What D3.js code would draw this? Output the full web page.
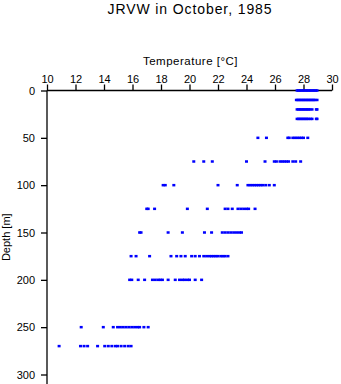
<!DOCTYPE html>
<html>
<head>
<meta charset="utf-8">
<script src="https://cdn.jsdelivr.net/npm/d3@7/dist/d3.min.js"></script>
<style>
  html, body { margin: 0; padding: 0; background: #fff; }
  svg { display: block; }
  text { font-family: "Liberation Sans", Arial, Helvetica, sans-serif; fill: #000; }
</style>
</head>
<body>
<svg id="chart" width="341" height="384"></svg>
<script>
// Temperature profile readings, JRVW, October 1985
const depthLevels = [0, 10, 20, 30, 50, 75, 100, 125, 150, 175, 200, 250, 270];

const temps0   = [27.55, 27.65, 27.75, 27.85, 27.95, 28.05, 28.15, 28.25, 28.35, 28.45, 28.55, 28.65, 28.75, 28.85, 28.95];
const temps10  = [27.5, 27.6, 27.7, 27.8, 27.9, 28.0, 28.1, 28.2, 28.3, 28.4, 28.5, 28.6, 28.7, 28.8, 28.95];
const temps20  = [27.55, 27.65, 27.75, 27.85, 27.95, 28.05, 28.15, 28.25, 28.35, 28.45, 28.6, 28.9, 28.95];
const temps30  = [27.55, 27.65, 27.75, 27.85, 27.95, 28.05, 28.15, 28.25, 28.35, 28.5, 28.6, 28.9, 28.95];
const temps50  = [24.8, 25.4, 26.9, 27.0, 27.25, 27.4, 27.55, 27.7, 27.85, 28.0, 28.3];
const temps75  = [20.3, 21.0, 21.6, 24.0, 25.3, 25.95, 26.1, 26.35, 26.5, 26.65, 26.8, 26.95, 27.25, 27.45, 27.8];
const temps100 = [18.15, 18.3, 18.9, 22.0, 23.35, 24.1, 24.25, 24.4, 24.55, 24.7, 24.85, 25.0, 25.15, 25.35, 25.6, 25.95];
const temps125 = [17.0, 17.1, 17.55, 19.85, 21.25, 22.5, 22.7, 23.0, 23.4, 23.6, 23.8, 24.0, 24.15, 24.6];
const temps150 = [16.5, 16.6, 18.5, 19.5, 21.05, 21.55, 22.3, 22.5, 22.7, 22.9, 23.1, 23.3, 23.5, 23.65];
const temps175 = [15.9, 16.25, 17.2, 18.7, 19.1, 19.4, 19.7, 20.15, 20.4, 20.7, 21.0, 21.2, 21.4, 21.55, 21.7, 21.85, 22.0, 22.2, 22.35, 22.5, 22.7];
const temps200 = [15.8, 15.95, 16.4, 16.85, 17.4, 17.6, 17.8, 17.95, 18.1, 18.5, 19.0, 19.3, 19.5, 19.65, 19.85, 20.0, 20.4, 20.85];
const temps250 = [12.4, 13.95, 14.65, 14.95, 15.15, 15.35, 15.55, 15.75, 15.95, 16.15, 16.35, 16.5, 16.8, 17.1];
const temps270 = [10.85, 12.35, 12.6, 12.85, 13.55, 14.05, 14.3, 14.55, 14.8, 14.95, 15.2, 15.45, 15.7, 15.9];

const tempTicks  = [10, 12, 14, 16, 18, 20, 22, 24, 26, 28, 30];
const depthTicks = [0, 50, 100, 150, 200, 250, 300];

const tempsByLevel = [temps0, temps10, temps20, temps30, temps50, temps75, temps100,
                      temps125, temps150, temps175, temps200, temps250, temps270];

const points = [];
depthLevels.forEach((depth, i) => {
  tempsByLevel[i].forEach(t => points.push({ depth, temp: t }));
});

const svg = d3.select("#chart");

const x = d3.scaleLinear().domain([10, 30]).range([47, 332]);
const y = d3.scaleLinear().domain([0, 300]).range([90.5, 374.5]);

// Title
svg.append("text")
  .attr("x", 190)
  .attr("y", 14)
  .attr("text-anchor", "middle")
  .style("font-size", "14px")
  .style("letter-spacing", "0.9px")
  .text("JRVW in October, 1985");

// Temperature axis along the top
const xAxis = svg.append("g")
  .attr("transform", `translate(0,${y(0)})`)
  .call(d3.axisTop(x).tickValues(tempTicks).tickSize(6).tickSizeOuter(0).tickPadding(1.5));
xAxis.select(".domain").remove();
xAxis.selectAll(".tick line").attr("stroke", "#000").attr("stroke-width", 1.3);
xAxis.selectAll(".tick text")
  .style("font-size", "11px")
  .style("font-family", "'Liberation Sans', Arial, sans-serif");

svg.append("line")
  .attr("x1", x(10)).attr("x2", x(30))
  .attr("y1", y(0)).attr("y2", y(0))
  .attr("stroke", "#000").attr("stroke-width", 1.3);

svg.append("text")
  .attr("x", (x(10) + x(30)) / 2 + 1)
  .attr("y", 65)
  .attr("text-anchor", "middle")
  .style("font-size", "11.5px")
  .style("letter-spacing", "0.5px")
  .text("Temperature [°C]");

// Depth axis on the left
const yAxis = svg.append("g")
  .attr("transform", `translate(${x(10)},0)`)
  .call(d3.axisLeft(y).tickValues(depthTicks).tickSize(6).tickSizeOuter(0).tickPadding(6));
yAxis.select(".domain").remove();
yAxis.selectAll(".tick line").attr("stroke", "#000").attr("stroke-width", 1.3);
yAxis.selectAll(".tick text")
  .style("font-size", "11px")
  .style("font-family", "'Liberation Sans', Arial, sans-serif");

svg.append("line")
  .attr("x1", x(10)).attr("x2", x(10))
  .attr("y1", y(0)).attr("y2", 384)
  .attr("stroke", "#000").attr("stroke-width", 1.3);

svg.append("text")
  .attr("transform", `translate(10,${y(155)}) rotate(-90)`)
  .attr("text-anchor", "middle")
  .style("font-size", "11px")
  .text("Depth [m]");

// Observations
svg.append("g")
  .selectAll("rect")
  .data(points)
  .join("rect")
  .attr("x", d => x(d.temp) - 1.5)
  .attr("y", d => y(d.depth) - 1.25)
  .attr("width", 3)
  .attr("height", 2.5)
  .attr("fill", "#0000ff");
</script>
</body>
</html>
